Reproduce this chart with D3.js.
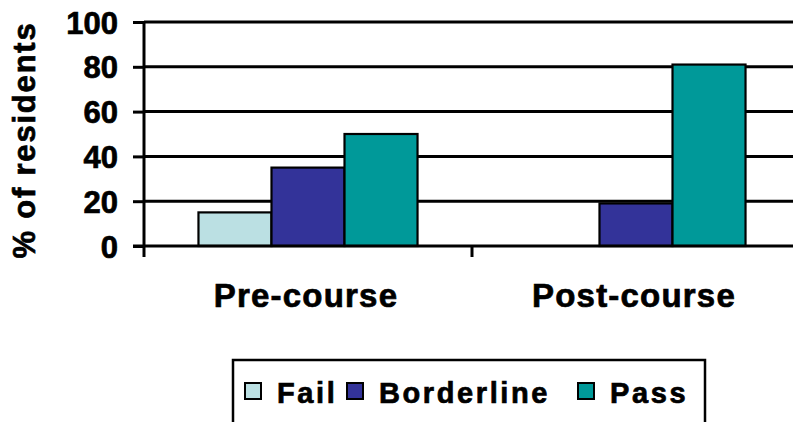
<!DOCTYPE html>
<html>
<head>
<meta charset="utf-8">
<script src="https://cdn.jsdelivr.net/npm/d3@7"></script>
<style>
  body { margin: 0; background: #fff; }
  svg { display: block; font-family: "Liberation Sans", Arial, sans-serif; font-weight: bold; }
  .label { stroke: #000; stroke-width: 0.7px; fill: #000; }
</style>
</head>
<body>
<div id="chart"></div>
<script>
const categories = ["Pre-course", "Post-course"]
const seriesNames = ["Fail", "Borderline", "Pass"]
const failValues = [15, 0]
const borderlineValues = [35, 19]
const passValues = [50, 81]
const yTicks = [0, 20, 40, 60, 80, 100]

const colors = {Fail: "#bbe0e3", Borderline: "#333399", Pass: "#009999"}

const width = 793
const height = 422
const margin = {top: 22, left: 144, bottom: 246}

const svg = d3.select("#chart").append("svg")
  .attr("width", width)
  .attr("height", height)

// each category takes 328px; the second one runs past the right edge
const x0 = d3.scaleBand()
  .domain(categories)
  .range([margin.left, margin.left + 328 * categories.length])
  .paddingInner(0)
  .paddingOuter(0)

const x1 = d3.scaleBand()
  .domain(seriesNames)
  .range([0, x0.bandwidth()])
  .paddingInner(0)
  .paddingOuter(0.746)

const y = d3.scaleLinear()
  .domain([0, 100])
  .range([margin.bottom, margin.top])

// gridlines
svg.append("g")
  .selectAll("line")
  .data(yTicks.filter(d => d > 0))
  .join("line")
    .attr("x1", margin.left)
    .attr("x2", width)
    .attr("y1", d => y(d))
    .attr("y2", d => y(d))
    .attr("stroke", "#000")
    .attr("stroke-width", 3)

const rows = categories.map((c, i) => ({
  category: c,
  values: [
    {key: "Fail", value: failValues[i]},
    {key: "Borderline", value: borderlineValues[i]},
    {key: "Pass", value: passValues[i]}
  ]
}))

svg.append("g")
  .selectAll("g")
  .data(rows)
  .join("g")
    .attr("transform", d => `translate(${x0(d.category)},0)`)
  .selectAll("rect")
  .data(d => d.values.filter(v => v.value > 0))
  .join("rect")
    .attr("x", d => x1(d.key))
    .attr("y", d => y(d.value))
    .attr("width", x1.bandwidth())
    .attr("height", d => y(0) - y(d.value))
    .attr("fill", d => colors[d.key])
    .attr("stroke", "#000")
    .attr("stroke-width", 2.2)

// y axis
const yAxis = svg.append("g")
  .attr("transform", `translate(${margin.left},0)`)
  .call(d3.axisLeft(y).tickValues(yTicks).tickSize(11).tickPadding(15))
yAxis.select(".domain").remove()
yAxis.selectAll(".tick line").attr("stroke-width", 3)
yAxis.selectAll(".tick text")
  .attr("class", "label")
  .attr("font-size", 31)
  .attr("font-family", "Liberation Sans, Arial, sans-serif")
  .attr("font-weight", "bold")
  .attr("dy", "0.36em")
yAxis.append("line")
  .attr("x1", 0).attr("x2", 0)
  .attr("y1", margin.top).attr("y2", margin.bottom + 11)
  .attr("stroke", "#000")
  .attr("stroke-width", 3)

// x axis
const xAxis = svg.append("g")
  .attr("transform", `translate(0,${margin.bottom})`)
xAxis.append("line")
  .attr("x1", margin.left - 11).attr("x2", width)
  .attr("stroke", "#000")
  .attr("stroke-width", 3)
xAxis.selectAll(".sep")
  .data(categories.slice(1))
  .join("line")
    .attr("class", "sep")
    .attr("x1", d => x0(d)).attr("x2", d => x0(d))
    .attr("y1", 0).attr("y2", 11)
    .attr("stroke", "#000")
    .attr("stroke-width", 3)
xAxis.selectAll(".cat")
  .data(categories)
  .join("text")
    .attr("class", "cat label")
    .attr("x", d => x0(d) + x0.bandwidth() / 2 - 2)
    .attr("y", 61)
    .attr("text-anchor", "middle")
    .attr("font-size", 33)
    .attr("letter-spacing", 1.2)
    .text(d => d)

// y label
svg.append("text")
  .attr("class", "label")
  .attr("transform", "translate(35,140) rotate(-90)")
  .attr("text-anchor", "middle")
  .attr("font-size", 31)
  .attr("letter-spacing", 1.8)
  .text("% of residents")

// legend
const legend = svg.append("g")
legend.append("rect")
  .attr("x", 233).attr("y", 360)
  .attr("width", 472).attr("height", 90)
  .attr("fill", "#fff")
  .attr("stroke", "#000")
  .attr("stroke-width", 2.5)

const legendX = {Fail: 245, Borderline: 347, Pass: 578}
const legendItems = legend.selectAll(".item")
  .data(seriesNames)
  .join("g")
    .attr("class", "item")
    .attr("transform", d => `translate(${legendX[d]},383)`)
legendItems.append("rect")
  .attr("width", 16).attr("height", 16)
  .attr("fill", d => colors[d])
  .attr("stroke", "#000")
  .attr("stroke-width", 2)
legendItems.append("text")
  .attr("class", "label")
  .attr("x", 32)
  .attr("y", 20)
  .attr("font-size", 29)
  .attr("letter-spacing", 2.6)
  .text(d => d)
</script>
</body>
</html>
